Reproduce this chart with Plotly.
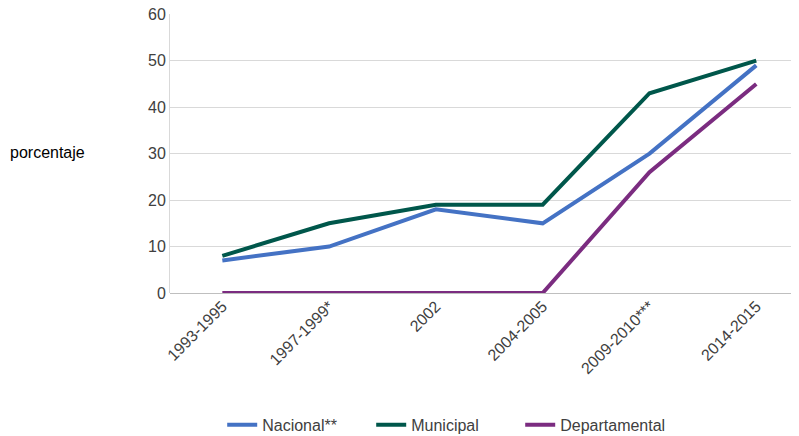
import plotly.graph_objects as go

categories = ["1993-1995", "1997-1999*", "2002", "2004-2005", "2009-2010***", "2014-2015"]
nacional = [7, 10, 18, 15, 30, 49]
municipal = [8, 15, 19, 19, 43, 50]
departamental = [0, 0, 0, 0, 26, 45]

fig = go.Figure()
for name, vals, color in [("Nacional**", nacional, "#4472C4"),
                          ("Municipal", municipal, "#00574B"),
                          ("Departamental", departamental, "#7B2C80")]:
    fig.add_trace(go.Scatter(x=categories, y=vals, mode="lines", name=name,
                             line=dict(color=color, width=4)))

fam = "Liberation Sans, Arial, sans-serif"
fig.update_layout(
    width=791, height=428,
    margin=dict(l=162, r=0, t=6, b=143, autoexpand=False),
    plot_bgcolor="white", paper_bgcolor="white",
    font=dict(family=fam, size=15, color="#404040"),
    showlegend=True,
    legend=dict(orientation="h", x=0.083, xanchor="left", y=-0.473, yanchor="middle",
                entrywidth=104, entrywidthmode="pixels",
                font=dict(family=fam, size=16, color="#404040"), tracegroupgap=0),
    xaxis=dict(type="category", range=[-0.49, 5.4], tickangle=-45, showgrid=False,
               showline=False, ticks="", automargin=False,
               tickfont=dict(family=fam, size=16, color="#404040")),
    yaxis=dict(range=[0, 60.05], tickvals=[0, 10, 20, 30, 40, 50, 60],
               showgrid=True, gridcolor="#D9D9D9", gridwidth=1,
               zeroline=True, zerolinecolor="#BFBFBF", zerolinewidth=1,
               showline=True, linecolor="#D9D9D9", linewidth=1, ticks="",
               ticklabeloverflow="allow",
               automargin=False, tickfont=dict(family=fam, size=16, color="#404040")),
)
fig.add_annotation(text="porcentaje", xref="paper", yref="paper", x=-0.2576, xanchor="left",
                   y=0.505, yanchor="middle", showarrow=False,
                   font=dict(family=fam, size=16, color="#000000"))
fig.write_html("out.html")
